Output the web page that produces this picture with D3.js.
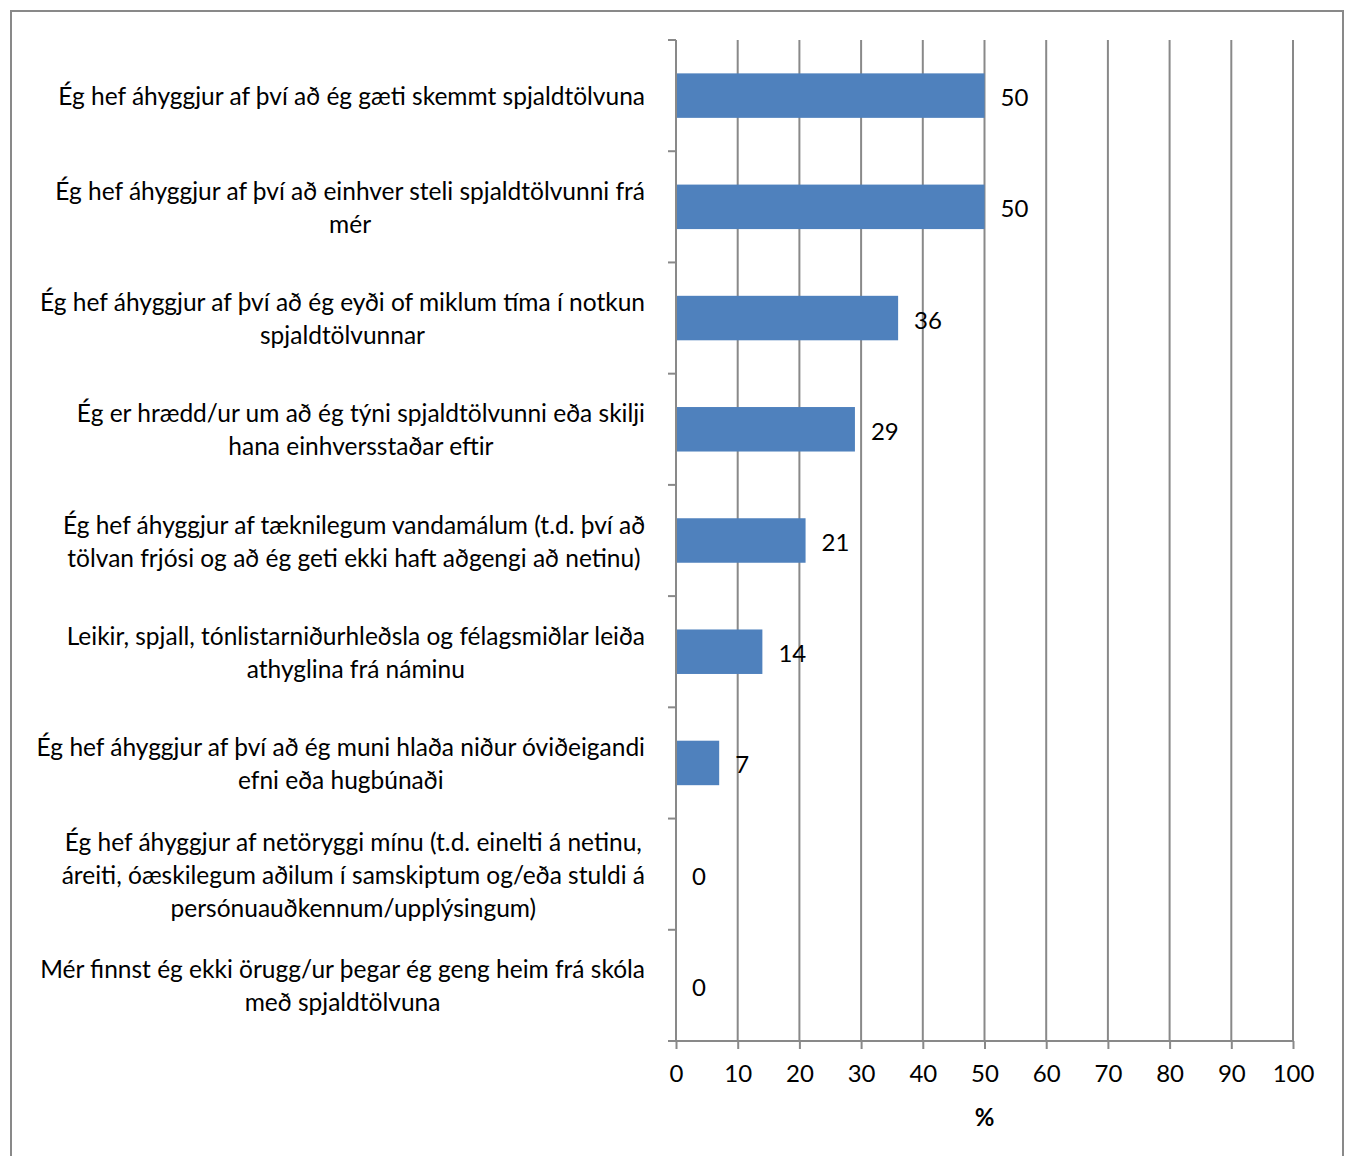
<!DOCTYPE html>
<html>
<head>
<meta charset="utf-8">
<script src="https://cdn.jsdelivr.net/npm/d3@7"></script>
<style>
  body { margin: 0; background: #fff; }
  svg { display: block; font-family: Lato, "Open Sans", sans-serif; }
</style>
</head>
<body>
<svg id="chart"></svg>
<script>
const width = 1350;
const height = 1156;

// categories, already split into the lines the reference shows
const categories = [
  ["Ég hef áhyggjur af því að ég gæti skemmt spjaldtölvuna"],
  ["Ég hef áhyggjur af því að einhver steli spjaldtölvunni frá", "mér"],
  ["Ég hef áhyggjur af því að ég eyði of miklum tíma í notkun", "spjaldtölvunnar"],
  ["Ég er hrædd/ur um að ég týni spjaldtölvunni eða skilji", "hana einhversstaðar eftir"],
  ["Ég hef áhyggjur af tæknilegum vandamálum (t.d. því að", "tölvan frjósi og að ég geti ekki haft aðgengi að netinu)"],
  ["Leikir, spjall, tónlistarniðurhleðsla og félagsmiðlar leiða", "athyglina frá náminu"],
  ["Ég hef áhyggjur af því að ég muni hlaða niður óviðeigandi", "efni eða hugbúnaði"],
  ["Ég hef áhyggjur af netöryggi mínu (t.d. einelti á netinu,", "áreiti, óæskilegum aðilum í samskiptum og/eða stuldi á", "persónuauðkennum/upplýsingum)"],
  ["Mér finnst ég ekki örugg/ur þegar ég geng heim frá skóla", "með spjaldtölvuna"]
];
const values = [50, 50, 36, 29, 21, 14, 7, 0, 0];
const xTicks = [0, 10, 20, 30, 40, 50, 60, 70, 80, 90, 100];
const xTitle = "%";

const plot = { left: 676, right: 1293, top: 40, bottom: 1041 };
const gridColor = "#898989";
const barColor = "#4f81bd";
const fontSize = 24.5;
const tickFontSize = 24;
const lineHeight = 33;

const svg = d3.select("#chart").attr("width", width).attr("height", height);

// outer frame
svg.append("rect")
  .attr("x", 11).attr("y", 11)
  .attr("width", 1332).attr("height", 1170)
  .attr("fill", "none")
  .attr("stroke", gridColor)
  .attr("stroke-width", 2);

const x = d3.scaleLinear().domain([0, 100]).range([plot.left, plot.right]);
const y = d3.scaleBand().domain(d3.range(categories.length)).range([plot.top, plot.bottom]).padding(0);
const bw = y.bandwidth();

// vertical gridlines
svg.append("g")
  .selectAll("line")
  .data(xTicks.filter(d => d > 0))
  .join("line")
  .attr("x1", d => x(d)).attr("x2", d => x(d))
  .attr("y1", plot.top).attr("y2", plot.bottom)
  .attr("stroke", gridColor)
  .attr("stroke-width", 2);

// bars
svg.append("g")
  .selectAll("rect")
  .data(values)
  .join("rect")
  .attr("x", x(0))
  .attr("y", (d, i) => y(i) + bw * 0.3)
  .attr("width", d => x(d) - x(0))
  .attr("height", bw * 0.4)
  .attr("fill", barColor);

// y axis: line and ticks at band edges
const yEdges = d3.range(categories.length + 1).map(i => plot.top + i * bw);
svg.append("line")
  .attr("x1", plot.left).attr("x2", plot.left)
  .attr("y1", plot.top).attr("y2", plot.bottom)
  .attr("stroke", gridColor).attr("stroke-width", 2);
svg.append("g")
  .selectAll("line")
  .data(yEdges)
  .join("line")
  .attr("x1", plot.left - 8).attr("x2", plot.left)
  .attr("y1", d => d).attr("y2", d => d)
  .attr("stroke", gridColor).attr("stroke-width", 2);

// x axis
const xAxis = d3.axisBottom(x)
  .tickValues(xTicks)
  .tickSize(8)
  .tickSizeOuter(0)
  .tickPadding(16);
const gx = svg.append("g")
  .attr("transform", `translate(0,${plot.bottom})`)
  .call(xAxis);
gx.select(".domain").remove();
gx.selectAll(".tick line").attr("stroke", gridColor).attr("stroke-width", 2);
gx.selectAll(".tick text")
  .attr("fill", "#000")
  .style("font-family", "Lato, sans-serif")
  .style("font-size", tickFontSize + "px");
svg.append("line")
  .attr("x1", plot.left - 8).attr("x2", plot.right)
  .attr("y1", plot.bottom).attr("y2", plot.bottom)
  .attr("stroke", gridColor).attr("stroke-width", 2);

// x title
svg.append("text")
  .attr("x", x(50))
  .attr("y", 1116)
  .attr("text-anchor", "middle")
  .attr("dominant-baseline", "central")
  .style("font-size", tickFontSize + "px")
  .style("font-weight", "bold")
  .text(xTitle);

// value labels
svg.append("g")
  .selectAll("text")
  .data(values)
  .join("text")
  .attr("x", d => x(d) + 16)
  .attr("y", (d, i) => y(i) + bw / 2 + 1)
  .attr("dominant-baseline", "central")
  .style("font-size", tickFontSize + "px")
  .text(d => d);

// category labels: block right aligned at the axis, lines centred in the block
const labelRight = 645;
const labels = svg.append("g");
categories.forEach((lines, i) => {
  const cy = y(i) + bw / 2;
  const g = labels.append("g");
  const texts = g.selectAll("text")
    .data(lines)
    .join("text")
    .attr("y", (d, j) => cy + (j - (lines.length - 1) / 2) * lineHeight)
    .attr("dominant-baseline", "central")
    .attr("text-anchor", "middle")
    .style("font-size", fontSize + "px")
    .text(d => d);
  const maxW = d3.max(texts.nodes(), n => n.getComputedTextLength());
  texts.attr("x", labelRight - maxW / 2);
});
</script>
</body>
</html>
